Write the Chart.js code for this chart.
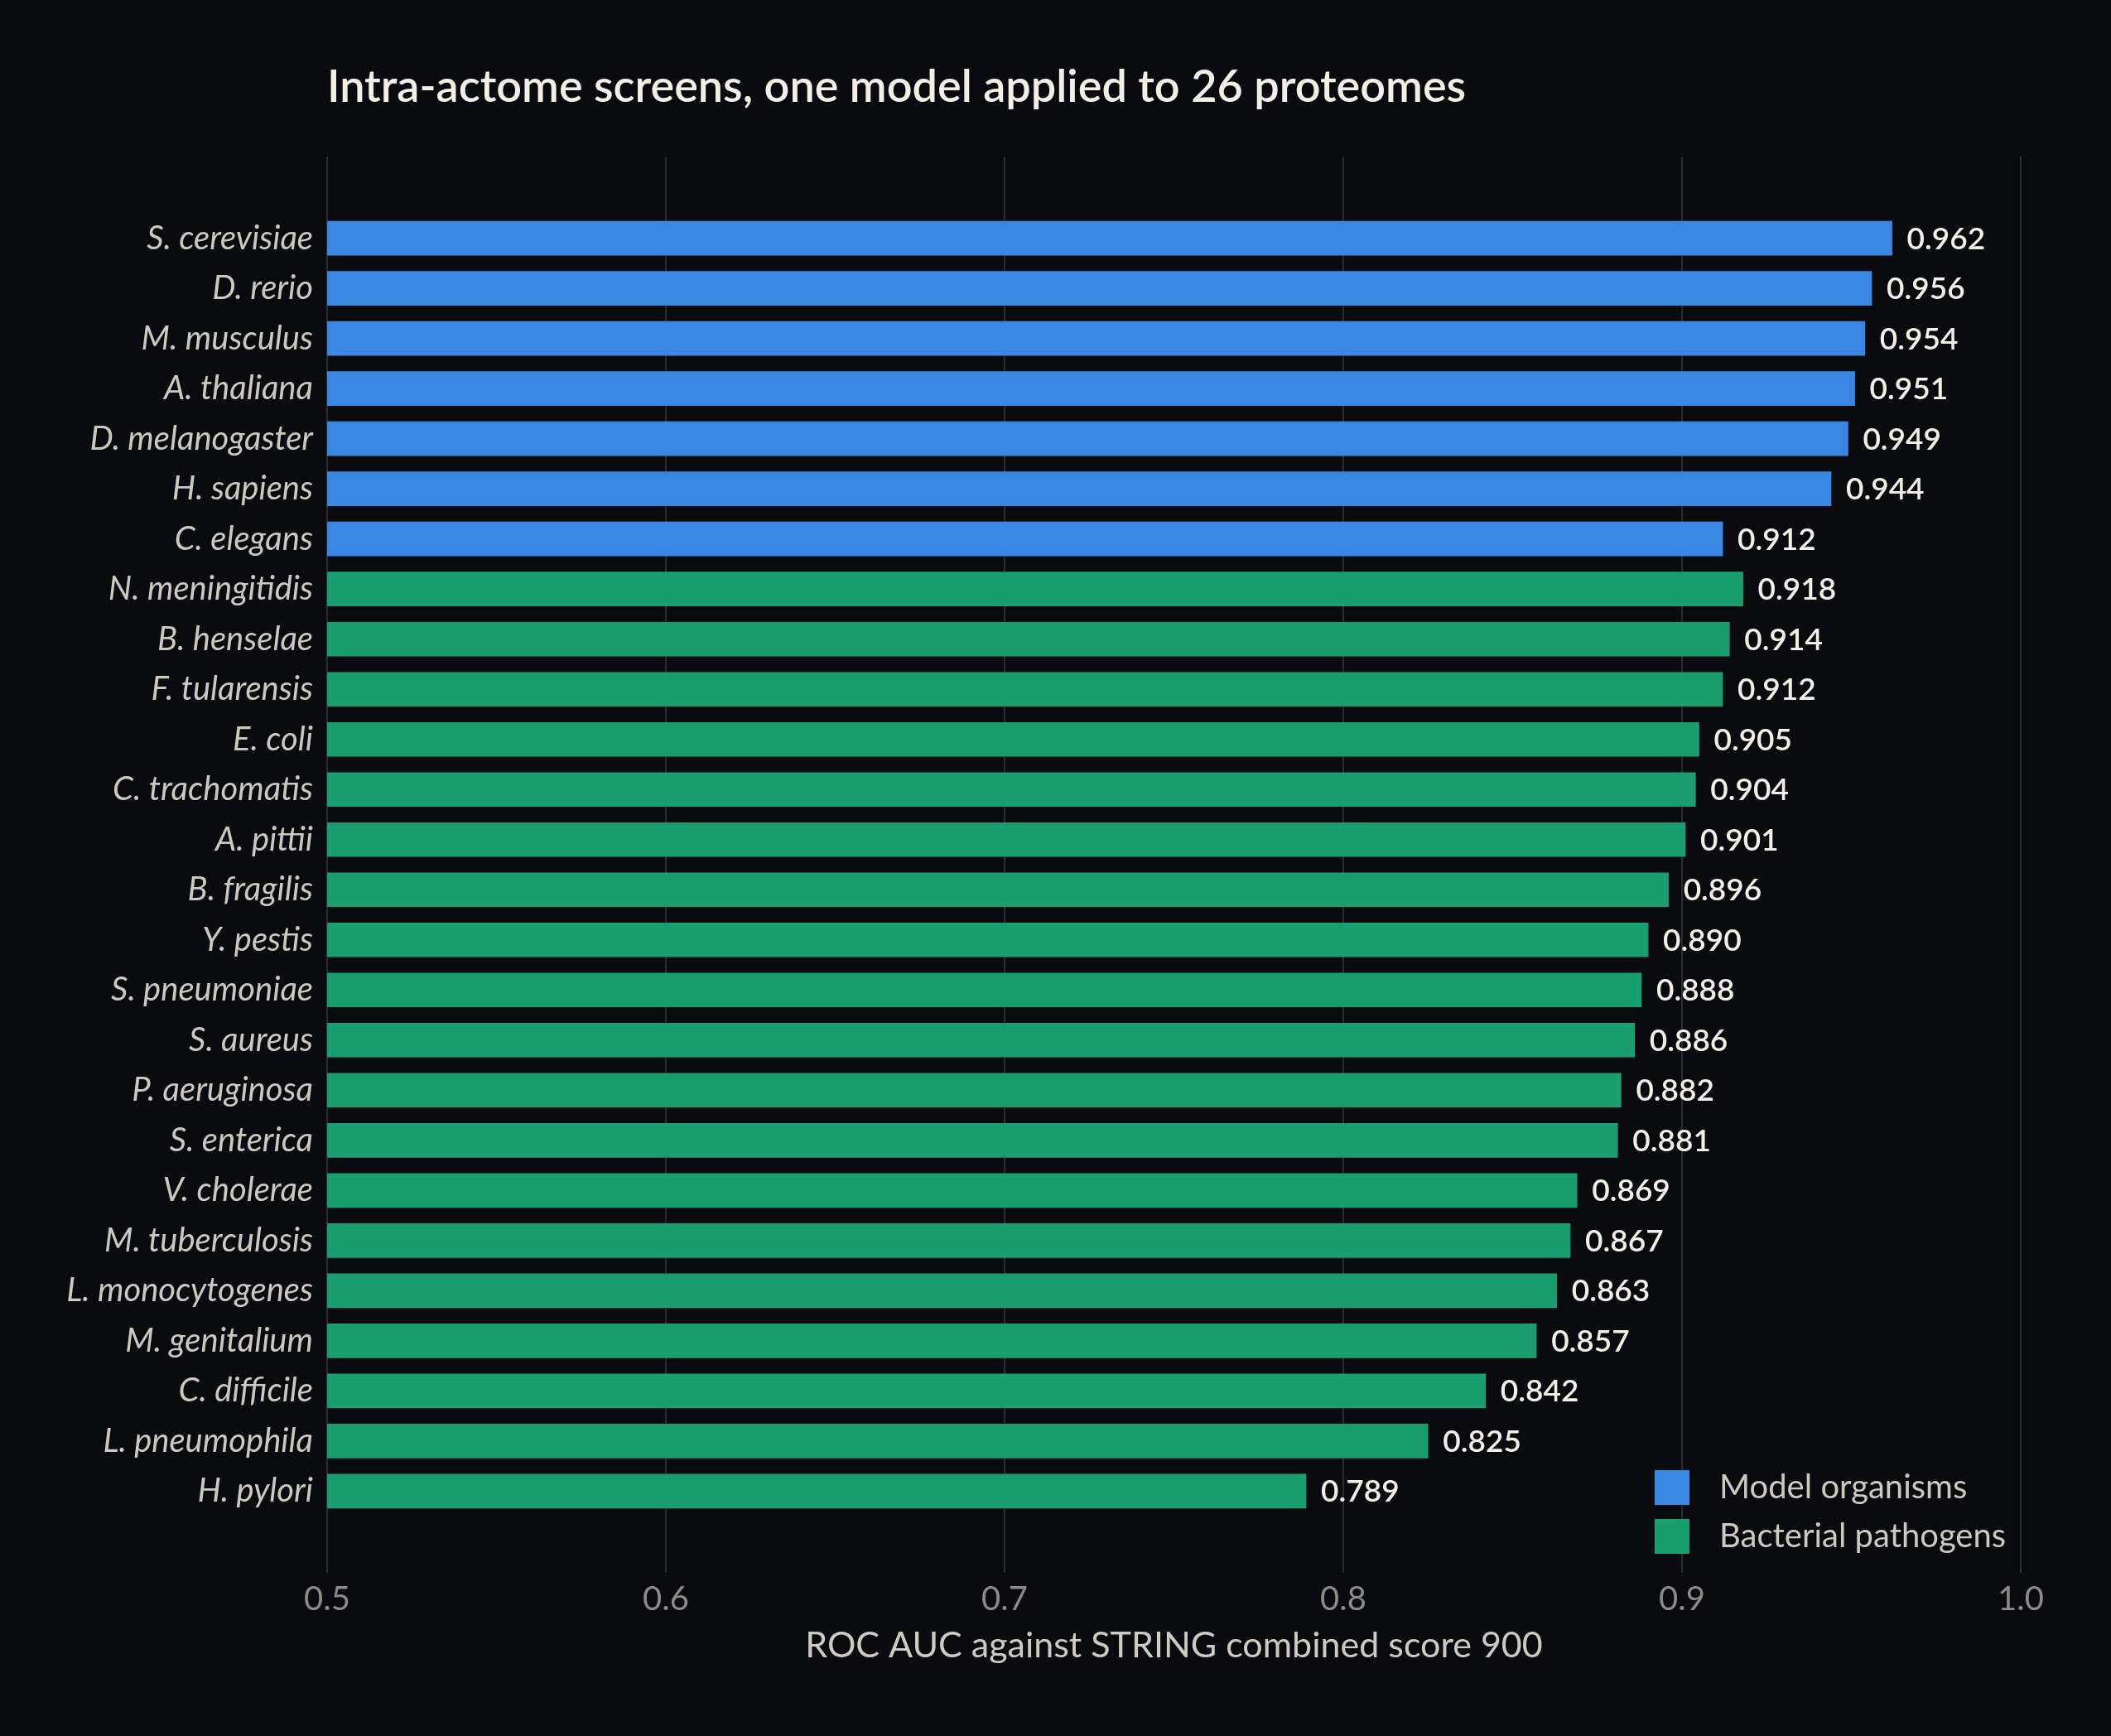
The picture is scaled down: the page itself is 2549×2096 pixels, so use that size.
<!DOCTYPE html>
<html>
<head>
<meta charset="utf-8">
<script src="https://cdn.jsdelivr.net/npm/chart.js@4.4.1/dist/chart.umd.min.js"></script>
<style>
  html, body { margin: 0; padding: 0; background: #0a0b0f; }
  #wrap { width: 2549px; height: 2096px; }
</style>
</head>
<body>
<div id="wrap"><canvas id="aucChart" width="2549" height="2096"></canvas></div>
<script>
// organisms, top to bottom
const modelOrganisms = ['S. cerevisiae', 'D. rerio', 'M. musculus', 'A. thaliana', 'D. melanogaster', 'H. sapiens', 'C. elegans'];
const modelAuc = [0.962, 0.956, 0.954, 0.951, 0.949, 0.944, 0.912];

const pathogens = ['N. meningitidis', 'B. henselae', 'F. tularensis', 'E. coli', 'C. trachomatis', 'A. pittii',
    'B. fragilis', 'Y. pestis', 'S. pneumoniae', 'S. aureus', 'P. aeruginosa', 'S. enterica', 'V. cholerae',
    'M. tuberculosis', 'L. monocytogenes', 'M. genitalium', 'C. difficile', 'L. pneumophila', 'H. pylori'];
const pathogenAuc = [0.918, 0.914, 0.912, 0.905, 0.904, 0.901, 0.896, 0.890, 0.888, 0.886, 0.882, 0.881, 0.869,
    0.867, 0.863, 0.857, 0.842, 0.825, 0.789];

const xTicks = [0.5, 0.6, 0.7, 0.8, 0.9, 1.0];
const seriesNames = ['Model organisms', 'Bacterial pathogens'];

const titleText = 'Intra-actome screens, one model applied to 26 proteomes';
const xTitle = 'ROC AUC against STRING combined score 900';

const allLabels = modelOrganisms.concat(pathogens);
const FONT = 'Lato, "Noto Sans", sans-serif';

const titlePlugin = {
    id: 'leftTitle',
    afterDraw(chart) {
        const ctx = chart.ctx;
        ctx.save();
        ctx.fillStyle = '#f3efe7';
        ctx.font = `600 54px ${FONT}`;
        ctx.textAlign = 'left';
        ctx.textBaseline = 'alphabetic';
        ctx.fillText(titleText, chart.chartArea.left, 123);
        ctx.restore();
    }
};

const valueLabels = {
    id: 'valueLabels',
    afterDatasetsDraw(chart) {
        const ctx = chart.ctx;
        ctx.save();
        ctx.fillStyle = '#f3efe7';
        ctx.font = `600 37px ${FONT}`;
        ctx.textAlign = 'left';
        ctx.textBaseline = 'middle';
        chart.data.datasets.forEach((ds, i) => {
            chart.getDatasetMeta(i).data.forEach((bar, j) => {
                ctx.fillText(ds.data[j].x.toFixed(3), bar.x + 18, bar.y + 1);
            });
        });
        ctx.restore();
    }
};

const cornerLegend = {
    id: 'cornerLegend',
    afterDraw(chart) {
        const ctx = chart.ctx;
        const area = chart.chartArea;
        ctx.save();
        ctx.font = `400 40px ${FONT}`;
        ctx.textBaseline = 'middle';
        chart.data.datasets.forEach((ds, i) => {
            const cy = area.bottom - 103 + i * 59;
            ctx.fillStyle = ds.backgroundColor;
            ctx.fillRect(area.right - 442, cy - 21, 42, 42);
            ctx.fillStyle = '#cdc8c0';
            ctx.fillText(ds.label, area.right - 364, cy);
        });
        ctx.restore();
    }
};

new Chart(document.getElementById('aucChart'), {
    type: 'bar',
    data: {
        datasets: [{
            label: seriesNames[0],
            data: modelAuc.map((v, i) => ({ x: v, y: i })),
            backgroundColor: '#3a87e3'
        }, {
            label: seriesNames[1],
            data: pathogenAuc.map((v, i) => ({ x: v, y: modelOrganisms.length + i })),
            backgroundColor: '#1a9e6f'
        }]
    },
    options: {
        indexAxis: 'y',
        responsive: false,
        devicePixelRatio: 1,
        animation: false,
        grouped: false,
        barThickness: 41,
        layout: { padding: { top: 189, right: 109, left: 0, bottom: 0 } },
        scales: {
            x: {
                type: 'linear',
                min: 0.5,
                max: 1.0,
                afterFit(scale) { scale.height = 197; },
                afterBuildTicks(scale) { scale.ticks = xTicks.map(v => ({ value: v })); },
                grid: { color: '#2a2c31', lineWidth: 2, drawTicks: false },
                border: { display: false },
                ticks: {
                    color: '#8c8b87',
                    font: { family: FONT, size: 40 },
                    padding: 8,
                    callback: v => v.toFixed(1)
                },
                title: {
                    display: true,
                    text: xTitle,
                    color: '#cfcac2',
                    font: { family: FONT, size: 43 },
                    padding: { top: 0, bottom: 83 }
                }
            },
            y: {
                type: 'linear',
                reverse: true,
                offset: false,
                min: -1.63,
                max: allLabels.length - 1 + 1.63,
                afterFit(scale) { scale.width = 395; },
                afterBuildTicks(scale) { scale.ticks = allLabels.map((_, i) => ({ value: i })); },
                grid: { display: false, drawTicks: false },
                border: { display: false },
                ticks: {
                    color: '#cdc8c0',
                    font: { family: FONT, size: 40, style: 'italic' },
                    padding: 17,
                    autoSkip: false,
                    callback: v => allLabels[v]
                }
            }
        },
        plugins: {
            legend: { display: false },
            title: { display: false },
            tooltip: { enabled: false }
        }
    },
    plugins: [titlePlugin, valueLabels, cornerLegend]
});
</script>
</body>
</html>
